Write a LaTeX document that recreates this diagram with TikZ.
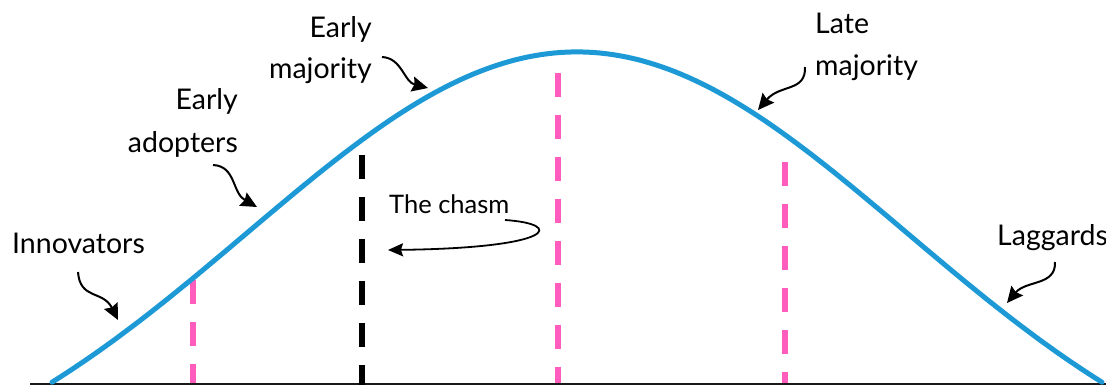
\documentclass[tikz,border=0pt]{standalone}
\usepackage{fontspec}
\setmainfont{Lato}
\usetikzlibrary{arrows.meta}
\definecolor{curveblue}{RGB}{29,154,214}
\definecolor{dashpink}{RGB}{255,92,190}
\begin{document}
\begin{tikzpicture}[x=1pt,y=-1pt,
  lbl/.style={font=\fontsize{28.5}{34}\selectfont, inner sep=0pt},
  smalllbl/.style={font=\fontsize{25.5}{30}\selectfont, inner sep=0pt},
  note/.style={-{Stealth[length=16pt,width=15pt,inset=2pt]}, line width=2pt, black},
  pinkdash/.style={dashpink, line width=5.5pt, dash pattern=on 24pt off 18pt},
  blackdash/.style={black, line width=6.5pt, dash pattern=on 24pt off 18pt},
  bell/.style={curveblue, line width=5pt, line cap=round}]
\useasboundingbox (0,0) rectangle (1106,386);
% axis
\draw[line width=2pt, black!90] (30,384) -- (1106,384);
% dashed markers
\draw[pinkdash] (193,280) -- (193,383);
\draw[blackdash] (362,155) -- (362,385);
\draw[pinkdash] (558,73) -- (558,383);
\draw[pinkdash] (785,162) -- (785,383);
% bell curve
\draw[bell] plot[domain=52:1102, samples=160, smooth]
  (\x, {512 - 460*exp(-((\x-577)/100)*((\x-577)/100)/21.78)});
% labels
\node[lbl, anchor=base west] (inn) at (12,253) {Innovators};
\node[lbl, anchor=base east] (ea1) at (238,109) {Early};
\node[lbl, anchor=base east] (ea2) at (238,152) {adopters};
\node[lbl, anchor=base east] (em1) at (372,37) {Early};
\node[lbl, anchor=base east] (em2) at (372,78) {majority};
\node[lbl, anchor=base west] (lm1) at (815,33) {Late};
\node[lbl, anchor=base west] (lm2) at (815,75) {majority};
\node[lbl, anchor=base west] (lag) at (997,245) {Laggards};
\node[smalllbl, anchor=base west] (chasm) at (389,213) {The chasm};
% arrow end points
\coordinate (innS) at (78,272);   \coordinate (innT) at (118,320);
\coordinate (eaS) at (213,165);   \coordinate (eaT) at (257,207);
\coordinate (emS) at (382,57);    \coordinate (emT) at (428,88);
\coordinate (lmS) at (805,67);    \coordinate (lmT) at (758,110);
\coordinate (lagS) at (1055,262); \coordinate (lagT) at (1007,303);
\coordinate (chS) at (505,220);   \coordinate (chT) at (388,250);
% arrows
\draw[note] (innS) .. controls (80,300) and (103,290) .. (innT);
\draw[note] (eaS) .. controls (236,166) and (232,193) .. (eaT);
\draw[note] (emS) .. controls (402,58) and (404,82) .. (emT);
\draw[note] (lmS) .. controls (806,92) and (780,84) .. (lmT);
\draw[note] (lagS) .. controls (1056,286) and (1026,280) .. (lagT);
\draw[note, line width=1.8pt, -{Stealth[length=15pt,width=13pt,inset=2pt]}] (chS) .. controls (565,224) and (556,248) .. (chT);
\end{tikzpicture}
\end{document}
